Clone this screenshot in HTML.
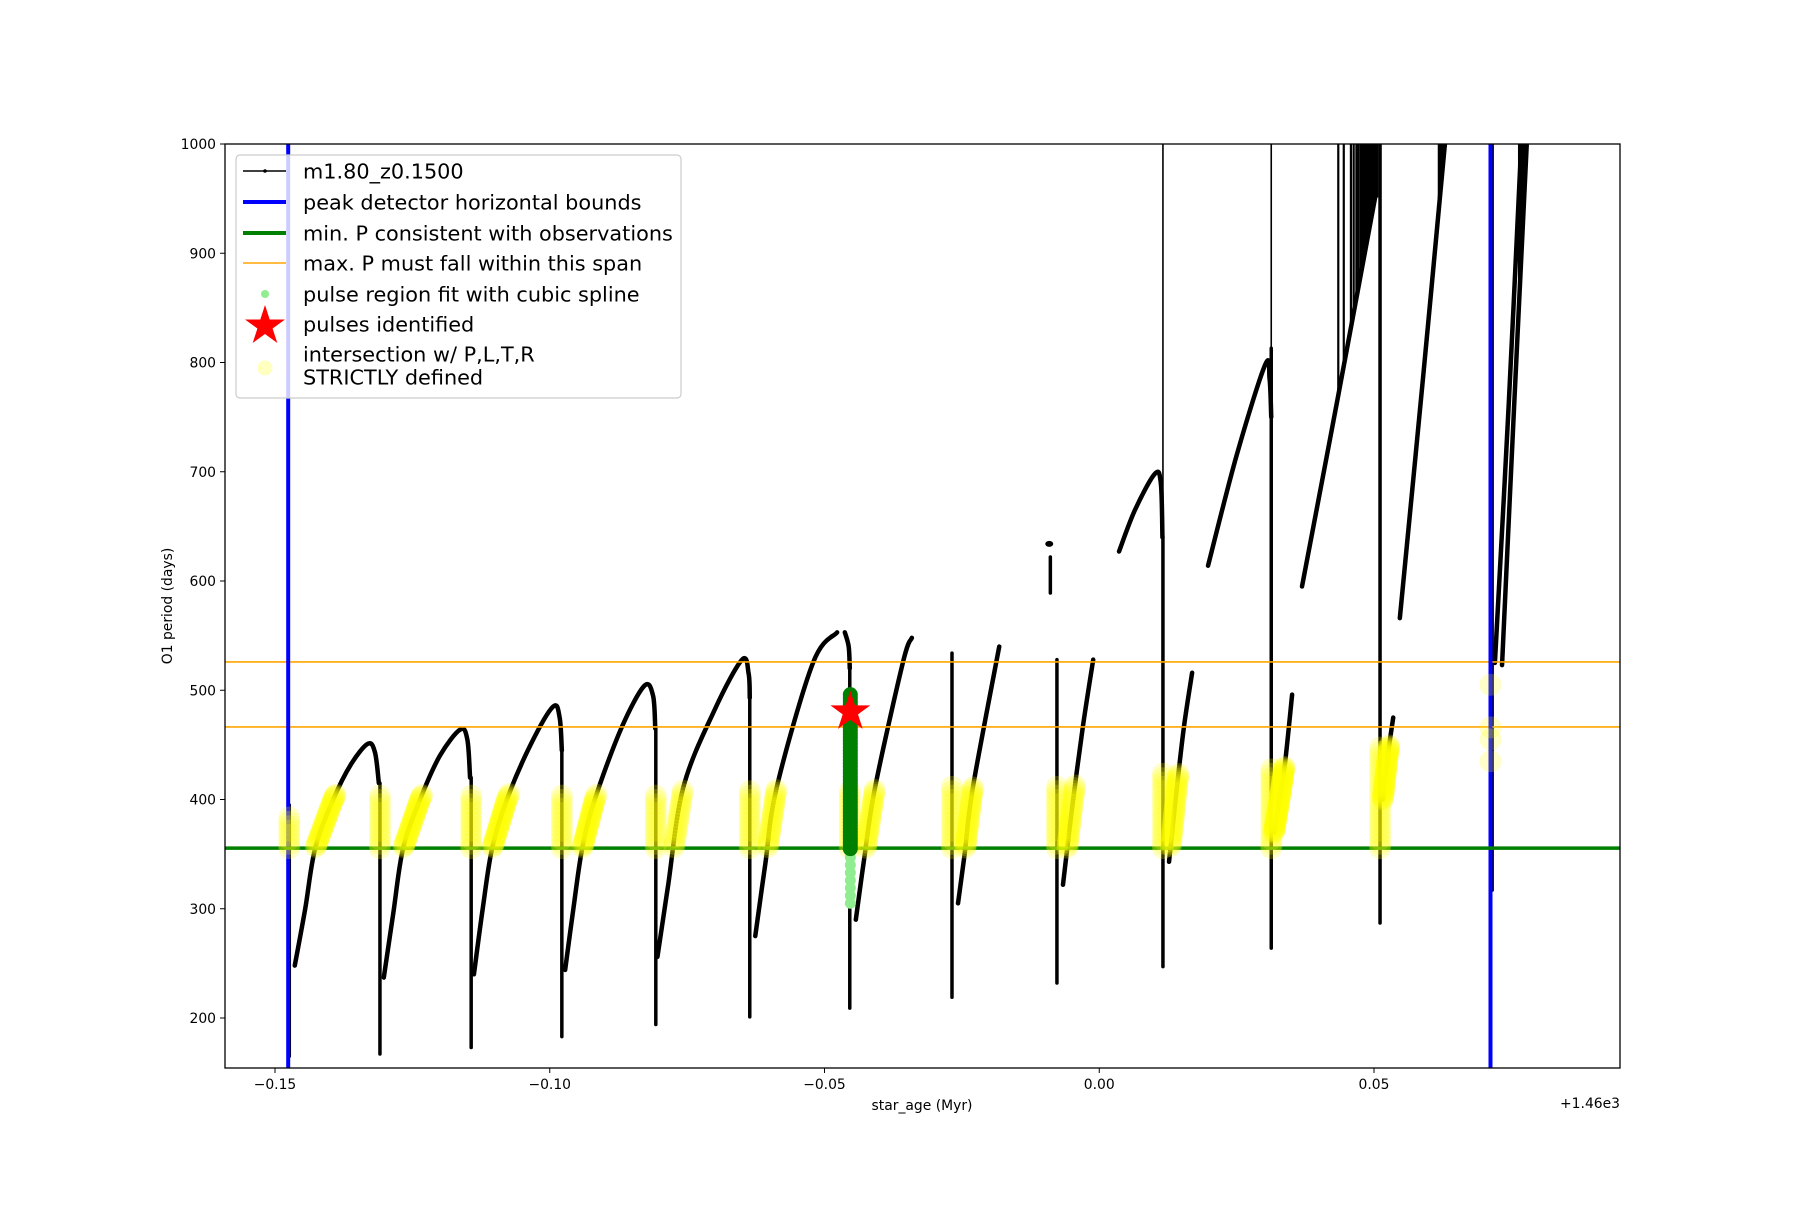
<!DOCTYPE html>
<html><head><meta charset="utf-8"><style>
html,body{margin:0;padding:0;background:#fff}
svg text{font-family:"DejaVu Sans","Liberation Sans",sans-serif}
</style></head><body>
<svg id="chart" width="1800" height="1200" viewBox="0 0 1800 1200" xmlns="http://www.w3.org/2000/svg">
<rect x="0" y="0" width="1800" height="1200" fill="#fff"/>
<defs><clipPath id="clip"><rect x="225" y="144" width="1395" height="924"/></clipPath></defs>
<g id="plot" clip-path="url(#clip)"></g>
<rect x="225" y="144" width="1395" height="924" fill="none" stroke="#000" stroke-width="1.3"/>
<g id="axes"></g>
<text x="1620" y="1108" font-size="13.9" text-anchor="end">+1.46e3</text>
<text x="922" y="1110" font-size="13.9" text-anchor="middle">star_age (Myr)</text>
<text transform="translate(172,606) rotate(-90)" font-size="13.9" text-anchor="middle">O1 period (days)</text>
<g id="legend">
<rect x="236" y="155" width="445" height="243" rx="4" fill="#fff" fill-opacity="0.8" stroke="#ccc" stroke-width="1.2"/>
<line x1="243" y1="171" x2="286" y2="171" stroke="#000" stroke-width="1.5"/>
<circle cx="265" cy="171" r="1.8" fill="#000"/>
<line x1="243" y1="202" x2="286" y2="202" stroke="#0000ff" stroke-width="4"/>
<line x1="243" y1="233" x2="286" y2="233" stroke="#008000" stroke-width="4"/>
<line x1="243" y1="263" x2="286" y2="263" stroke="#ffa500" stroke-width="1.5"/>
<circle cx="265" cy="294" r="4" fill="#90ee90"/>
<polygon id="legstar" fill="#ff0000"/>
<circle cx="265" cy="368" r="7.5" fill="#ffff00" fill-opacity="0.25"/>
<text x="303" y="178.5" font-size="20.8">m1.80_z0.1500</text>
<text x="303" y="209.5" font-size="20.8">peak detector horizontal bounds</text>
<text x="303" y="240.5" font-size="20.8">min. P consistent with observations</text>
<text x="303" y="270.5" font-size="20.8">max. P must fall within this span</text>
<text x="303" y="301.5" font-size="20.8">pulse region fit with cubic spline</text>
<text x="303" y="331.5" font-size="20.8">pulses identified</text>
<text x="303" y="361.5" font-size="20.8">intersection w/ P,L,T,R</text>
<text x="303" y="384.5" font-size="20.8">STRICTLY defined</text>
</g>
</svg>
<script>
const xTicks=[-0.15,-0.10,-0.05,0.00,0.05];
const xTickLabels=["\u22120.15","\u22120.10","\u22120.05","0.00","0.05"];
const yTicks=[200,300,400,500,600,700,800,900,1000];
const boundsX=[-0.1476,0.0712];
const minP=[355.5];
const maxP=[466.4,525.9];
const branches=[
 [[-0.1464,248],[-0.1445,300],[-0.1427,355],[-0.1394,400],[-0.1362,432],[-0.1331,451],[-0.1318,443],[-0.1311,415]],
 [[-0.1302,237],[-0.1285,295],[-0.1267,355],[-0.1236,400],[-0.1200,440],[-0.1163,464],[-0.1150,455],[-0.1145,420]],
 [[-0.1138,240],[-0.1122,300],[-0.1105,355],[-0.1078,400],[-0.1035,450],[-0.0994,485],[-0.0982,475],[-0.0978,445]],
 [[-0.0972,244],[-0.0957,300],[-0.0941,355],[-0.0918,400],[-0.0870,465],[-0.0828,504],[-0.0812,495],[-0.0808,465]],
 [[-0.0804,256],[-0.0785,320],[-0.0757,411],[-0.0700,482],[-0.0650,528],[-0.0638,515],[-0.0636,493]],
 [[-0.0626,275],[-0.0608,340],[-0.0587,411],[-0.0521,525],[-0.0477,553]],
 [[-0.0463,553],[-0.0456,540],[-0.0454,520]],
 [[-0.0443,290],[-0.0428,345],[-0.0408,411],[-0.0357,526],[-0.0341,548]],
 [[-0.0257,305],[-0.0245,350],[-0.0230,411],[-0.0182,540]],
 [[-0.0066,322],[-0.0050,390],[-0.0030,466],[-0.0011,528]],
 [[0.0036,627],[0.0065,665],[0.0101,698],[0.0112,690],[0.0115,640]],
 [[0.0127,343],[0.0140,405],[0.0154,466],[0.0169,516]],
 [[0.0198,614],[0.0250,715],[0.0302,798],[0.0310,785],[0.0313,750]],
 [[0.0318,370],[0.0328,400],[0.0338,433],[0.0351,496]],
 [[0.0369,595],[0.0435,770],[0.0502,951]],
 [[0.0516,400],[0.0525,440],[0.0535,475]],
 [[0.0547,566],[0.0590,790],[0.0629,1000]],
 [[0.0733,523],[0.0755,760],[0.0778,1000]],
 [[0.0720,525],[0.0745,760],[0.0768,1000]]
];
const branchYellowMax=[405,405,405,405,410,410,0,410,412,415,0,425,0,430,0,450,0,0,0];
const drops=[[-0.1474,395,165],[-0.1309,415,167],[-0.1143,420,173],[-0.0978,445,183],[-0.0807,465,194],[-0.0636,493,201],[-0.0454,520,209],[-0.0268,534,219],[-0.0077,528,232],[-0.0089,622,589],[0.01159,640,247],[0.0313,813,264],[0.0511,1000,287],[0.0715,1000,317]];
const dropYellowMax=[385,405,405,405,405,410,410,412,415,0,425,430,450,0];
const thinLines=[[0.01159,1000,640],[0.0313,1000,813]];
const spikeX=[0.0435,0.0445,0.0458,0.0463,0.0468,0.0472,0.0476,0.0479,0.0482,0.0485,0.0488,0.0491,0.0494,0.0497,0.0500,0.0503,0.0506,0.0618,0.0621,0.0624,0.0627,0.0764,0.0767,0.0770,0.0773,0.0776];
const spikeBranch=[14,14,14,14,14,14,14,14,14,14,14,14,14,14,14,14,14,16,16,16,16,17,17,17,17,17];
const lonePoints=[[-0.0091,634]];
const boundYellow=[[0.0712,505],[0.0712,466],[0.0712,455],[0.0712,435]];
const splineDark=[355,497];
const splineLight=[305,355];
const pulseX=[-0.0453];
const pulseP=[482];

const X=v=>275+(v+0.15)*5495;
const Y=p=>1018-(p-200)*1.0925;
const NS="http://www.w3.org/2000/svg";
const plot=document.getElementById('plot'), axes=document.getElementById('axes');
function mk(tag,attrs,parent){const e=document.createElementNS(NS,tag);for(const k in attrs)e.setAttribute(k,attrs[k]);parent.appendChild(e);return e;}
function smoothPath(pts){
 const P=pts.map(p=>[X(p[0]),Y(p[1])]);
 let d='M'+P[0][0]+','+P[0][1];
 for(let i=0;i<P.length-1;i++){
  const p0=P[Math.max(0,i-1)],p1=P[i],p2=P[i+1],p3=P[Math.min(P.length-1,i+2)];
  const c1=[p1[0]+(p2[0]-p0[0])/6,p1[1]+(p2[1]-p0[1])/6],c2=[p2[0]-(p3[0]-p1[0])/6,p2[1]-(p3[1]-p1[1])/6];
  d+=' C'+c1[0]+','+c1[1]+' '+c2[0]+','+c2[1]+' '+p2[0]+','+p2[1];
 }
 return d;
}
function sampleBranch(pts,n){const out=[];for(let i=0;i<pts.length-1;i++){for(let k=0;k<n;k++){const t=k/n;out.push([pts[i][0]+(pts[i+1][0]-pts[i][0])*t,pts[i][1]+(pts[i+1][1]-pts[i][1])*t]);}}out.push(pts[pts.length-1]);return out;}
function branchAt(pts,x){for(let i=0;i<pts.length-1;i++){if(x>=pts[i][0]&&x<=pts[i+1][0]){const t=(x-pts[i][0])/(pts[i+1][0]-pts[i][0]);return pts[i][1]+(pts[i+1][1]-pts[i][1])*t;}}return pts[pts.length-1][1];}

xTicks.forEach((v,i)=>{
 const t=mk('line',{x1:X(v),x2:X(v),y1:1068,y2:1073,stroke:'#000','stroke-width':1},axes);
 
 const l=mk('text',{x:X(v),y:1089,'font-size':13.9,'text-anchor':'middle'},axes);l.textContent=xTickLabels[i];
 
});
yTicks.forEach(v=>{
 const t=mk('line',{x1:220,x2:225,y1:Y(v),y2:Y(v),stroke:'#000','stroke-width':1},axes);
 
 const l=mk('text',{x:216,y:Y(v)+5,'font-size':13.9,'text-anchor':'end'},axes);l.textContent=v;
 
});

thinLines.forEach(d=>{const e=mk('line',{x1:X(d[0]),x2:X(d[0]),y1:Y(d[1]),y2:Y(d[2]),stroke:'#000','stroke-width':1.6},plot);
 });
spikeX.forEach((x,i)=>{const y0=branchAt(branches[spikeBranch[i]],x);
 const e=mk('line',{x1:X(x),x2:X(x),y1:Y(y0),y2:Y(1000),stroke:'#000','stroke-width':2.2},plot);
 });
drops.forEach(d=>{const e=mk('line',{x1:X(d[0]),x2:X(d[0]),y1:Y(d[1]),y2:Y(d[2]),stroke:'#000','stroke-width':3.5,'stroke-linecap':'round'},plot);
 });
branches.forEach(b=>{const e=mk('path',{d:smoothPath(b),fill:'none',stroke:'#000','stroke-width':4.5,'stroke-linecap':'round'},plot);
 });
lonePoints.forEach(p=>{const e=mk('ellipse',{cx:X(p[0]),cy:Y(p[1]),rx:4,ry:3,fill:'#000'},plot);
 });

maxP.forEach(v=>{const e=mk('line',{x1:225,x2:1620,y1:Y(v),y2:Y(v),stroke:'#ffa500','stroke-width':1.6},plot);
 });
boundsX.forEach(v=>{const e=mk('line',{x1:X(v),x2:X(v),y1:144,y2:1068,stroke:'#0000ff','stroke-width':4},plot);
 });
minP.forEach(v=>{const e=mk('line',{x1:225,x2:1620,y1:Y(v),y2:Y(v),stroke:'#008000','stroke-width':3.5},plot);
 });

const yg=mk('g',{fill:'#ffff00','fill-opacity':0.22},plot);

function yDot(x,p){const c=mk('circle',{cx:X(x),cy:Y(p),r:11},yg);}
branches.forEach((b,i)=>{const m=branchYellowMax[i];if(!m)return;sampleBranch(b,30).forEach(p=>{if(p[1]>=minP[0]&&p[1]<=m)yDot(p[0],p[1]);});});
drops.forEach((d,i)=>{const m=dropYellowMax[i];if(!m)return;for(let p=minP[0];p<=m;p+=4)yDot(d[0],p);});
boundYellow.forEach(p=>yDot(p[0],p[1]));

const gl=mk('g',{fill:'#90ee90'},plot);
for(let p=splineLight[0];p<=splineLight[1];p+=7){const c=mk('circle',{cx:X(pulseX[0]),cy:Y(p),r:5.5},gl);}
const gd=mk('g',{fill:'#008000'},plot);
for(let p=splineDark[0];p<=splineDark[1];p+=3){const c=mk('circle',{cx:X(pulseX[0]),cy:Y(p),r:7.5},gd);}

function starPts(cx,cy,R){const r=R*0.382;let s=[];for(let i=0;i<10;i++){const a=-Math.PI/2+i*Math.PI/5,rr=i%2?r:R;s.push((cx+rr*Math.cos(a)).toFixed(1)+','+(cy+rr*Math.sin(a)).toFixed(1));}return s.join(' ');}
pulseX.forEach((x,i)=>{const s=mk('polygon',{points:starPts(X(x),Y(pulseP[i])+2,21),fill:'#ff0000'},plot);
 });
document.getElementById('legstar').setAttribute('points',starPts(265,326,21));
</script>
</body></html>
